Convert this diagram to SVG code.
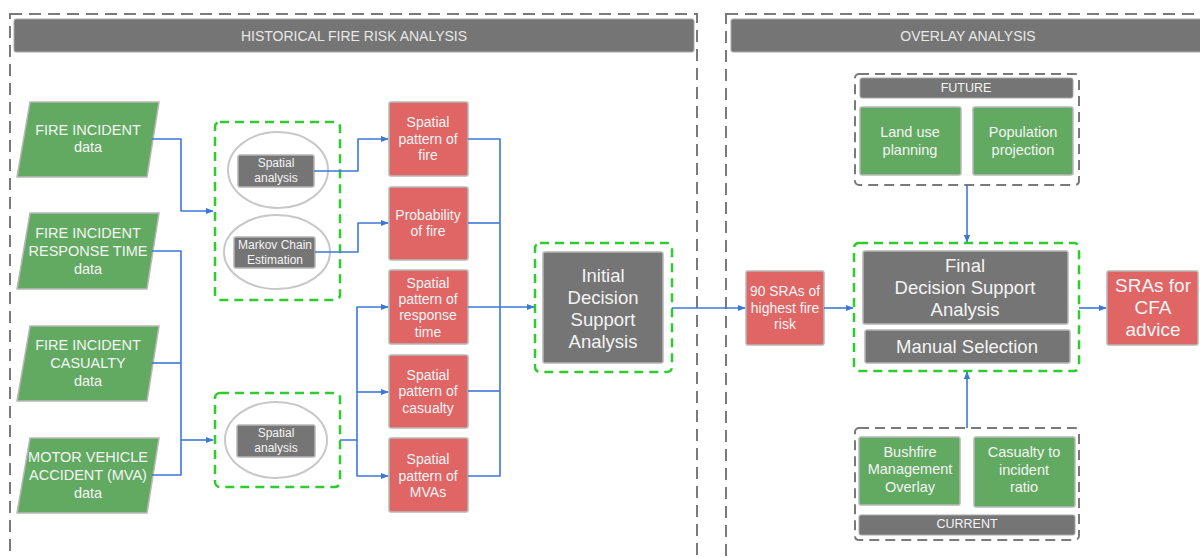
<svg xmlns="http://www.w3.org/2000/svg" width="1200" height="557" viewBox="0 0 1200 557">
<defs>
<marker id="arr" viewBox="0 0 10 10" refX="9" refY="5" markerWidth="5" markerHeight="5" orient="auto" markerUnits="strokeWidth"><path d="M0,1 L10,5 L0,9 z" fill="#3c78d8"/></marker>
</defs>
<style>
text{font-family:"Liberation Sans",Arial,sans-serif;fill:#f4f4f4;text-anchor:middle;dominant-baseline:central}
.outer{fill:none;stroke:#7a7a7a;stroke-width:2;stroke-dasharray:12 7}
.grp{fill:none;stroke:#7a7a7a;stroke-width:2;stroke-dasharray:10 6}
.gd{fill:none;stroke:#2ecc2e;stroke-width:2.5;stroke-dasharray:9 6}
.bar{fill:#757575;stroke:#a8a8a8;stroke-width:1}
.gray{fill:#757575;stroke:#b5b5b5;stroke-width:1.5}
.red{fill:#e06666;stroke:#b8b8b8;stroke-width:1.5}
.grn{fill:#62aa62;stroke:#b8b8b8;stroke-width:1.5}
.ell{fill:#ffffff;stroke:#c8c8c8;stroke-width:2}
.c{fill:none;stroke:#3c78d8;stroke-width:1.6;stroke-linejoin:round}
.h{font-size:14px;fill:#e8e8e8}
.s{font-size:14px}
.p{font-size:14.5px}
.xs{font-size:12px}
.t{font-size:12.5px}
.l{font-size:18.5px}
</style>

<g id="historical">
<rect class="outer" x="10" y="14" width="687" height="560"/>
<rect class="bar" x="14" y="19" width="680" height="33" rx="2"/>
<text class="h" x="354" y="36">HISTORICAL FIRE RISK ANALYSIS</text>
</g>
<g id="overlay">
<rect class="outer" x="726" y="14" width="490" height="560"/>
<rect class="bar" x="731" y="19" width="480" height="33" rx="2"/>
<text class="h" x="968" y="36">OVERLAY ANALYSIS</text>
</g>

<g id="fire-incident">
<path class="grn" d="M30,102 L159,102 L147,177 L17,177 Z"/>
<text class="p" x="88" y="130">FIRE INCIDENT</text>
<text class="p" x="88" y="147">data</text>
</g>
<g id="response-time">
<path class="grn" d="M30,213 L159,213 L147,289 L17,289 Z"/>
<text class="p" x="88" y="233">FIRE INCIDENT</text>
<text class="p" x="88" y="251">RESPONSE TIME</text>
<text class="p" x="88" y="269">data</text>
</g>
<g id="casualty">
<path class="grn" d="M30,326 L159,326 L147,401 L17,401 Z"/>
<text class="p" x="88" y="345">FIRE INCIDENT</text>
<text class="p" x="88" y="363">CASUALTY</text>
<text class="p" x="88" y="381">data</text>
</g>
<g id="mva">
<path class="grn" d="M30,438 L159,438 L147,513 L17,513 Z"/>
<text class="p" x="88" y="457">MOTOR VEHICLE</text>
<text class="p" x="88" y="475">ACCIDENT (MVA)</text>
<text class="p" x="88" y="493">data</text>
</g>

<g id="analysis-group-1">
<rect class="gd" x="215" y="122" width="125" height="178" rx="5"/>
</g>
<g id="spatial-analysis-1">
<ellipse class="ell" cx="278" cy="170" rx="50" ry="38"/>
<rect class="gray" x="238" y="155" width="76" height="32" rx="2"/>
<text class="xs" x="276" y="163">Spatial</text>
<text class="xs" x="276" y="178">analysis</text>
</g>
<g id="markov">
<ellipse class="ell" cx="277" cy="252" rx="53" ry="37"/>
<rect class="gray" x="234" y="237" width="81" height="31" rx="2"/>
<text class="xs" x="275" y="245">Markov Chain</text>
<text class="xs" x="275" y="260">Estimation</text>
</g>
<g id="analysis-group-2">
<rect class="gd" x="215" y="393" width="125" height="94" rx="5"/>
</g>
<g id="spatial-analysis-2">
<ellipse class="ell" cx="276" cy="440" rx="51" ry="38"/>
<rect class="gray" x="237" y="425" width="78" height="32" rx="2"/>
<text class="xs" x="276" y="433">Spatial</text>
<text class="xs" x="276" y="448">analysis</text>
</g>

<g id="sp-fire">
<rect class="red" x="389" y="102" width="79" height="74" rx="2"/>
<text class="s" x="428" y="122">Spatial</text>
<text class="s" x="428" y="139">pattern of</text>
<text class="s" x="428" y="155">fire</text>
</g>
<g id="prob-fire">
<rect class="red" x="389" y="187" width="79" height="73" rx="2"/>
<text class="s" x="428" y="215">Probability</text>
<text class="s" x="428" y="231">of fire</text>
</g>
<g id="sp-response">
<rect class="red" x="389" y="270" width="79" height="74" rx="2"/>
<text class="s" x="428" y="283">Spatial</text>
<text class="s" x="428" y="299">pattern of</text>
<text class="s" x="428" y="315">response</text>
<text class="s" x="428" y="332">time</text>
</g>
<g id="sp-casualty">
<rect class="red" x="389" y="355" width="79" height="73" rx="2"/>
<text class="s" x="428" y="375">Spatial</text>
<text class="s" x="428" y="391">pattern of</text>
<text class="s" x="428" y="408">casualty</text>
</g>
<g id="sp-mva">
<rect class="red" x="389" y="438" width="79" height="74" rx="2"/>
<text class="s" x="428" y="459">Spatial</text>
<text class="s" x="428" y="476">pattern of</text>
<text class="s" x="428" y="492">MVAs</text>
</g>

<g id="initial-dsa">
<rect class="gd" x="535" y="243" width="137" height="129" rx="5"/>
<rect class="gray" x="543" y="252" width="120" height="111" rx="2"/>
<text class="l" x="603" y="275">Initial</text>
<text class="l" x="603" y="297">Decision</text>
<text class="l" x="603" y="319">Support</text>
<text class="l" x="603" y="341">Analysis</text>
</g>

<g id="sras-90">
<rect class="red" x="746" y="271" width="78" height="74" rx="2"/>
<text x="785" y="291" style="font-size:14px" textLength="70" lengthAdjust="spacingAndGlyphs">90 SRAs of</text>
<text x="785" y="308" style="font-size:14px">highest fire</text>
<text x="785" y="324" style="font-size:14px">risk</text>
</g>

<g id="future">
<rect class="grp" x="855" y="74" width="224" height="111" rx="4"/>
<rect class="bar" x="860" y="78" width="213" height="20" rx="2"/>
<text class="t" x="966" y="88">FUTURE</text>
</g>
<g id="land-use">
<rect class="grn" x="860" y="107" width="101" height="68" rx="2"/>
<text class="p" x="910" y="132">Land use</text>
<text class="p" x="910" y="150">planning</text>
</g>
<g id="population">
<rect class="grn" x="973" y="107" width="100" height="68" rx="2"/>
<text class="p" x="1023" y="132">Population</text>
<text class="p" x="1023" y="150">projection</text>
</g>

<g id="final-dsa">
<rect class="gd" x="854" y="243" width="225" height="128" rx="5"/>
<rect class="gray" x="863" y="251" width="205" height="73" rx="2"/>
<text class="l" x="965" y="265">Final</text>
<text class="l" x="965" y="287">Decision Support</text>
<text class="l" x="965" y="309">Analysis</text>
</g>
<g id="manual-selection">
<rect class="gray" x="865" y="330" width="205" height="33" rx="2"/>
<text class="l" x="967" y="346">Manual Selection</text>
</g>

<g id="current">
<rect class="grp" x="855" y="428" width="224" height="112" rx="4"/>
<rect class="bar" x="859" y="515" width="216" height="20" rx="2"/>
<text class="t" x="967" y="524">CURRENT</text>
</g>
<g id="bushfire">
<rect class="grn" x="859" y="437" width="101" height="68" rx="2"/>
<text class="p" x="910" y="452">Bushfire</text>
<text class="p" x="910" y="469">Management</text>
<text class="p" x="910" y="487">Overlay</text>
</g>
<g id="casualty-ratio">
<rect class="grn" x="974" y="437" width="101" height="70" rx="2"/>
<text class="p" x="1024" y="452">Casualty to</text>
<text class="p" x="1024" y="470">incident</text>
<text class="p" x="1024" y="487">ratio</text>
</g>

<g id="sras-cfa">
<rect class="red" x="1107" y="271" width="91" height="74" rx="2"/>
<text x="1153" y="285" style="font-size:19px">SRAs for</text>
<text x="1153" y="307" style="font-size:19px">CFA</text>
<text x="1153" y="329" style="font-size:19px">advice</text>
</g>

<g id="connectors">
<path class="c" d="M152,139 H181 V211 H213" marker-end="url(#arr)"/>
<path class="c" d="M152,251 H181 V475 H152"/>
<path class="c" d="M152,363 H181"/>
<path class="c" d="M181,440 H213" marker-end="url(#arr)"/>
<path class="c" d="M314,171 H358 V139 H388" marker-end="url(#arr)"/>
<path class="c" d="M315,252 H358 V223 H388" marker-end="url(#arr)"/>
<path class="c" d="M340,440 H357 V307 H388" marker-end="url(#arr)"/>
<path class="c" d="M357,440 V476 H388" marker-end="url(#arr)"/>
<path class="c" d="M357,392 H388" marker-end="url(#arr)"/>
<path class="c" d="M468,139 H500 V476 H468"/>
<path class="c" d="M468,223 H500"/>
<path class="c" d="M468,391 H500"/>
<path class="c" d="M468,307 H534" marker-end="url(#arr)"/>
<path class="c" d="M672,308 H745" marker-end="url(#arr)"/>
<path class="c" d="M824,308 H853" marker-end="url(#arr)"/>
<path class="c" d="M1079,308 H1106" marker-end="url(#arr)"/>
<path class="c" d="M967,185 V242" marker-end="url(#arr)"/>
<path class="c" d="M967,428 V372" marker-end="url(#arr)"/>
</g>
</svg>
